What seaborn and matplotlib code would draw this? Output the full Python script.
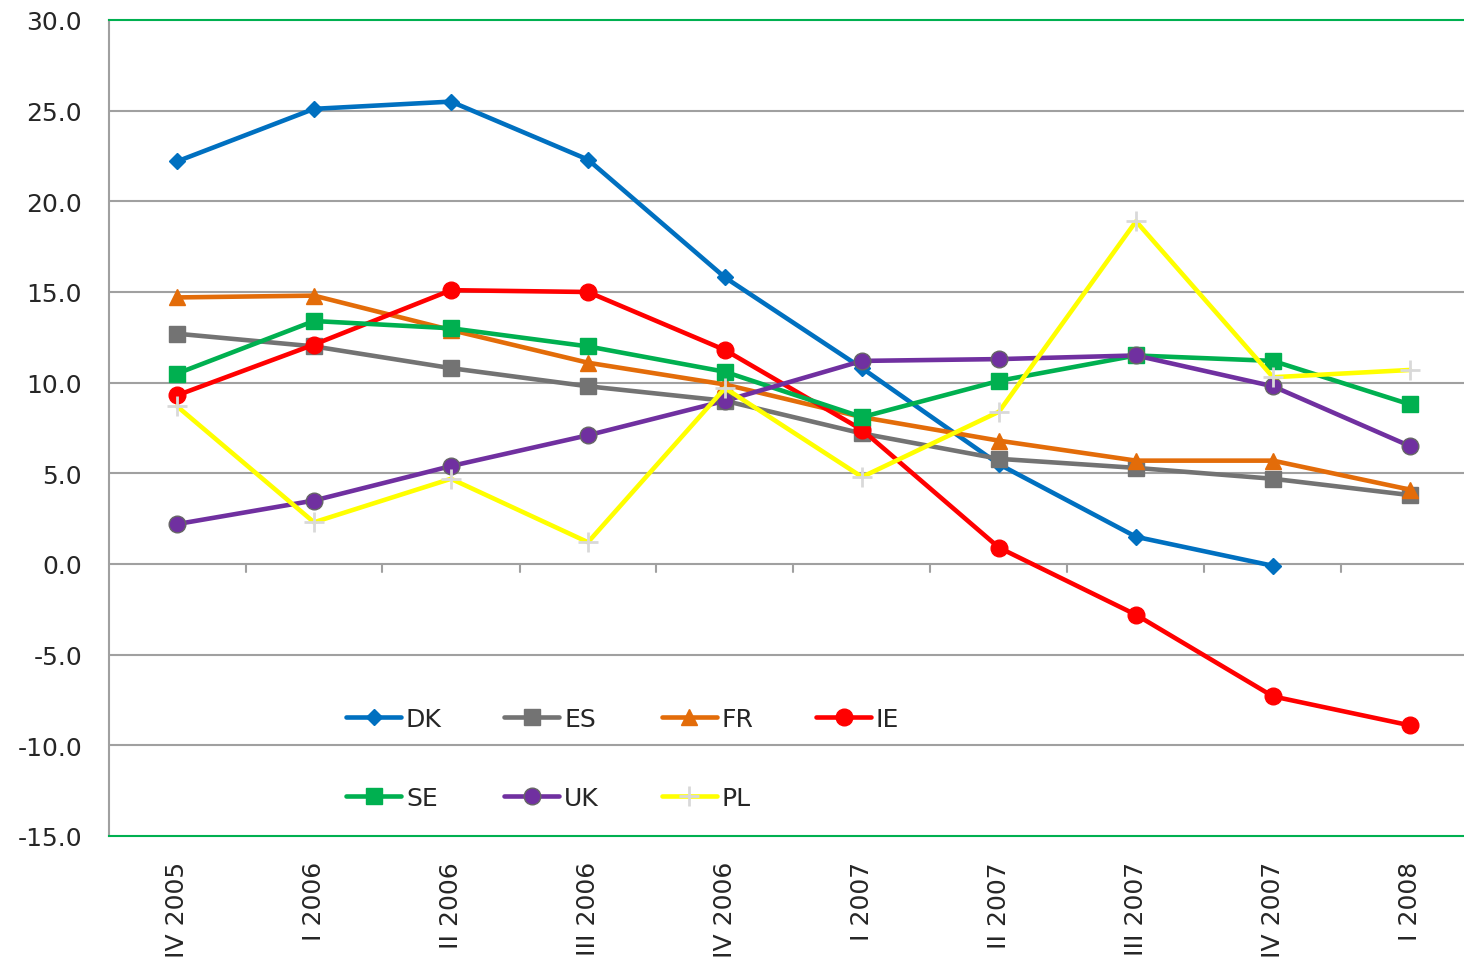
import numpy as np
import pandas as pd
import seaborn as sns
import matplotlib.pyplot as plt

# quarters on the x axis
quarters = ['IV 2005', 'I 2006', 'II 2006', 'III 2006', 'IV 2006',
            'I 2007', 'II 2007', 'III 2007', 'IV 2007', 'I 2008']

# values (year-on-year %)
dk = [22.2, 25.1, 25.5, 22.3, 15.8, 10.8, 5.5, 1.5, -0.1, np.nan]
es = [12.7, 12.0, 10.8, 9.8, 9.0, 7.2, 5.8, 5.3, 4.7, 3.8]
fr = [14.7, 14.8, 12.9, 11.1, 9.9, 8.1, 6.8, 5.7, 5.7, 4.1]
ie = [9.3, 12.1, 15.1, 15.0, 11.8, 7.4, 0.9, -2.8, -7.3, -8.9]
se = [10.5, 13.4, 13.0, 12.0, 10.6, 8.1, 10.1, 11.5, 11.2, 8.8]
uk = [2.2, 3.5, 5.4, 7.1, 9.0, 11.2, 11.3, 11.5, 9.8, 6.5]
pl = [8.7, 2.3, 4.7, 1.2, 9.7, 4.8, 8.4, 18.9, 10.3, 10.7]

series = {'DK': dk, 'ES': es, 'FR': fr, 'IE': ie, 'SE': se, 'UK': uk, 'PL': pl}

# styling per series: colour, marker, marker size, marker edge colour
styles = {
    'DK': ('#0070C0', 'D', 8, '#0070C0'),
    'ES': ('#737373', 's', 11, '#737373'),
    'FR': ('#E36C09', '^', 12, '#E36C09'),
    'IE': ('#FF0000', 'o', 12, '#FF0000'),
    'SE': ('#00B050', 's', 11, '#00B050'),
    'UK': ('#7030A0', 'o', 12, '#666666'),
    'PL': ('#FFFF00', '+', 14, '#D9D9D9'),
}

df = pd.DataFrame(series)
df['x'] = np.arange(len(quarters))

sns.set_style('white')
plt.rcParams['font.family'] = ['DejaVu Sans']
fs = 18

fig = plt.figure(figsize=(14.64, 9.70), dpi=100)
ax = fig.add_axes([108.5 / 1464, 1 - 837 / 970, 1370 / 1464, 816 / 970])

handles = {}
for name in series:
    col, mk, ms, mec = styles[name]
    sns.lineplot(data=df, x='x', y=name, ax=ax, color=col, linewidth=3.3,
                 marker=mk, markersize=ms, markeredgecolor=mec,
                 markeredgewidth=2 if mk == '+' else 1, label=name, zorder=3)
    handles[name] = ax.get_lines()[-1]

# grid lines
ax.set_ylim(-15, 30)
ax.set_xlim(-0.5, len(quarters) - 0.5)
yt = np.arange(-15, 31, 5)
ax.set_yticks(yt)
ax.set_yticklabels([f'{v:.1f}' for v in yt], fontsize=fs)
for v in yt[1:-1]:
    ax.axhline(v, color='#A0A0A0', linewidth=1.5, zorder=1)

ax.set_xticks(np.arange(len(quarters)))
ax.set_xticklabels(quarters, rotation=90, fontsize=fs, va='top')
ax.tick_params(axis='x', length=0, pad=18)
ax.tick_params(axis='y', length=6, width=1.2, color='#A0A0A0', direction='out', pad=13)

# category separators on the zero line
for b in np.arange(0.5, len(quarters) - 0.5, 1):
    ax.plot([b, b], [0, -0.45], color='#A0A0A0', linewidth=1.5, zorder=1)

for s in ['top', 'bottom']:
    ax.spines[s].set_color('#00B050')
    ax.spines[s].set_linewidth(1.5)
ax.spines['left'].set_color('#A0A0A0')
ax.spines['left'].set_linewidth(1.5)
ax.spines['right'].set_visible(False)
ax.set_xlabel('')
ax.set_ylabel('')

order = ['DK', 'SE', 'ES', 'UK', 'FR', 'PL', 'IE']
ax.legend([handles[n] for n in order], order, ncol=4, frameon=False,
          loc='upper left', bbox_to_anchor=(346 / 1464, 1 - 708 / 970),
          bbox_transform=fig.transFigure, fontsize=fs, handlelength=2.2,
          handletextpad=0.2, columnspacing=2.5, labelspacing=2.2,
          borderpad=0, borderaxespad=0)

fig.savefig('out.png', dpi=100)
